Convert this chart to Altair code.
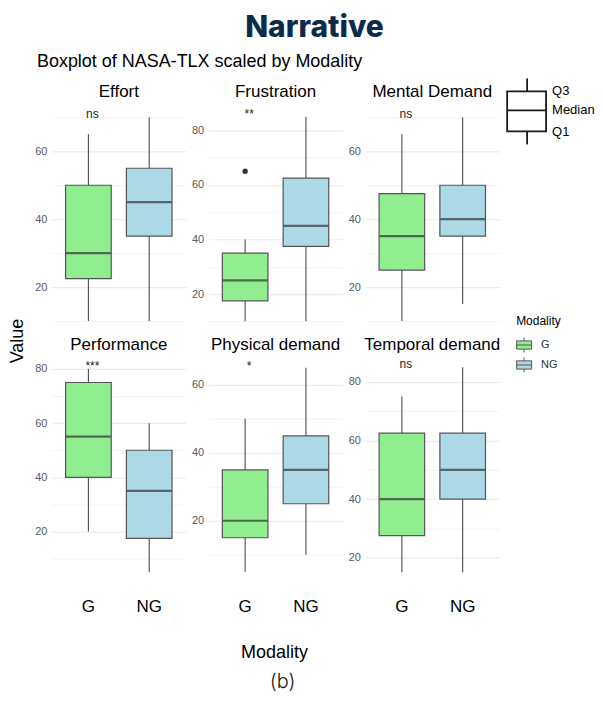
import altair as alt
import pandas as pd

# ---------------- data ----------------
modalities = ["G", "NG"]
panel_names = ["Effort", "Frustration", "Mental Demand",
               "Performance", "Physical demand", "Temporal demand"]
# box stats per panel: [G, NG] each (lower whisker, Q1, median, Q3, upper whisker)
lower = {"Effort": [10, 10], "Frustration": [10, 10], "Mental Demand": [10, 15],
         "Performance": [20, 5], "Physical demand": [5, 10], "Temporal demand": [15, 15]}
q1 = {"Effort": [22.5, 35], "Frustration": [17.5, 37.5], "Mental Demand": [25, 35],
      "Performance": [40, 17.5], "Physical demand": [15, 25], "Temporal demand": [27.5, 40]}
median = {"Effort": [30, 45], "Frustration": [25, 45], "Mental Demand": [35, 40],
          "Performance": [55, 35], "Physical demand": [20, 35], "Temporal demand": [40, 50]}
q3 = {"Effort": [50, 55], "Frustration": [35, 62.5], "Mental Demand": [47.5, 50],
      "Performance": [75, 50], "Physical demand": [35, 45], "Temporal demand": [62.5, 62.5]}
upper = {"Effort": [65, 70], "Frustration": [40, 85], "Mental Demand": [65, 70],
         "Performance": [80, 60], "Physical demand": [50, 65], "Temporal demand": [75, 85]}
outliers = {"Frustration": [("G", 65)]}
sig_label = {"Effort": "ns", "Frustration": "**", "Mental Demand": "ns",
             "Performance": "***", "Physical demand": "*", "Temporal demand": "ns"}
sig_y = {"Effort": 71, "Frustration": 86, "Mental Demand": 71,
         "Performance": 81, "Physical demand": 65.5, "Temporal demand": 86}
y_domain = {"Effort": [7.35, 73.8], "Frustration": [6.8, 89.5], "Mental Demand": [7.35, 73.8],
            "Performance": [1.2, 84.4], "Physical demand": [1.8, 68.2], "Temporal demand": [11.5, 88.5]}
colors = ["#90EE90", "#ADD8E6"]

FONT = "Liberation Sans"
PW, PH = 134, 226
GRID = "#ebebeb"

legend_path = "M-1,-0.55H1V0.55H-1Z M-1,0H1 M0,-0.55V-1 M0,0.55V1"

one = pd.DataFrame({"k": [0]})


def header_layers():
    anchor = alt.Chart(one).mark_rule(opacity=0, strokeWidth=1).encode(
        x=alt.value(-43.5), y=alt.value(-95.5), y2=alt.value(-90))
    title = alt.Chart(one).mark_text(text="Narrative", fontSize=30, font="Inter",
                                     fontWeight=800, color="#0b2b4b").encode(
        x=alt.value(263), y=alt.value(-77))
    sub = alt.Chart(one).mark_text(text="Boxplot of NASA-TLX scaled by Modality", fontSize=18,
                                   font=FONT, align="left", color="black").encode(
        x=alt.value(-15), y=alt.value(-42.5))
    ytitle = alt.Chart(one).mark_text(text="Value", angle=270, fontSize=18, font=FONT,
                                      color="black").encode(x=alt.value(-34), y=alt.value(237))
    return [anchor, title, sub, ytitle]


def key_layers():
    key_box = pd.DataFrame({"x": [142], "x2": [181], "y": [-13], "y2": [27]})
    key_lines = pd.DataFrame({"x": [142, 162, 162], "x2": [181, 162, 162],
                              "y": [6, -26, 27], "y2": [6, -13, 40]})
    key_text = pd.DataFrame({"t": ["Q3", "Median", "Q1"], "x": [187, 187, 187],
                             "y": [-13, 6, 28]})
    kb = alt.Chart(key_box).mark_rect(fill="white", stroke="#1a1a1a", strokeWidth=1.8).encode(
        x=alt.X("x:Q", scale=None), x2="x2:Q", y=alt.Y("y:Q", scale=None), y2="y2:Q")
    kl = alt.Chart(key_lines).mark_rule(color="#1a1a1a", strokeWidth=1.8).encode(
        x=alt.X("x:Q", scale=None), x2="x2:Q", y=alt.Y("y:Q", scale=None), y2="y2:Q")
    kt = alt.Chart(key_text).mark_text(align="left", fontSize=13, font=FONT,
                                       color="black").encode(
        x=alt.X("x:Q", scale=None), y=alt.Y("y:Q", scale=None), text="t:N")
    return [kb, kl, kt]


def footer_layers():
    f1 = alt.Chart(one).mark_text(text="Modality", fontSize=18, font=FONT,
                                  color="black").encode(x=alt.value(66), y=alt.value(297))
    f2 = alt.Chart(one).mark_text(text="(b)", fontSize=20, font="Inter", fontWeight=300,
                                  color="#222222").encode(x=alt.value(74), y=alt.value(326))
    return [f1, f2]


def panel(idx):
    name = panel_names[idx]
    bottom = idx >= 3
    df = pd.DataFrame({
        "Modality": modalities,
        "lo": lower[name], "q1": q1[name], "med": median[name],
        "q3": q3[name], "hi": upper[name],
    })
    dom = y_domain[name]
    ticks = [v for v in range(10, 100, 10) if dom[0] <= v <= dom[1]]
    yaxis = alt.Axis(values=ticks, labelExpr="datum.value % 20 === 0 ? datum.label : ''",
                     ticks=False, domain=False, labelFontSize=11, labelColor="#5a5a5a",
                     labelFont=FONT, labelPadding=5, gridColor=GRID,
                     gridWidth={"condition": {"test": "datum.value % 20 === 0", "value": 1.1},
                                "value": 0.6},
                     title=None)
    yscale = alt.Scale(domain=dom, nice=False, zero=False)
    xscale = alt.Scale(domain=modalities, paddingInner=0.25, paddingOuter=0.225)
    if bottom:
        xaxis = alt.Axis(labels=True, ticks=False, domain=False, labelFontSize=17,
                         labelColor="black", labelFont=FONT, labelPadding=16, labelAngle=0,
                         gridColor=GRID, gridWidth=1.1, bandPosition=0.5, title=None)
    else:
        xaxis = alt.Axis(labels=False, ticks=False, domain=False, gridColor=GRID,
                         gridWidth=1.1, bandPosition=0.5, title=None)
    X = alt.X("Modality:N", scale=xscale, axis=xaxis)

    def Y(f):
        return alt.Y(f"{f}:Q", scale=yscale, axis=yaxis)

    base = alt.Chart(df)
    whisk = base.mark_rule(color="#4d4d4d", strokeWidth=1.1).encode(x=X, y=Y("lo"), y2="hi:Q")
    box = base.mark_bar(stroke="#555555", strokeWidth=1.2).encode(
        x=X, y=Y("q1"), y2="q3:Q",
        fill=alt.Fill("Modality:N", scale=alt.Scale(domain=modalities, range=colors),
                      legend=alt.Legend(title="Modality", orient="none", legendX=465, legendY=212,
                                        symbolType=legend_path, symbolSize=225,
                                        symbolStrokeColor="#555555", symbolStrokeWidth=1,
                                        labelFontSize=11, labelFont=FONT, labelColor="#333333",
                                        titleFontSize=12, titleFont=FONT, titleFontWeight="normal",
                                        titleColor="black", titlePadding=9, rowPadding=0,
                                        labelOffset=9)))
    med = base.mark_tick(color="#333333", thickness=2.2, size=45).encode(x=X, y=Y("med"))
    layers = [whisk, box, med]
    if name in outliers:
        odf = pd.DataFrame({"Modality": [o[0] for o in outliers[name]],
                            "val": [o[1] for o in outliers[name]]})
        layers.append(alt.Chart(odf).mark_circle(color="#333333", size=28, opacity=1)
                      .encode(x=X, y=Y("val")))
    sdf = pd.DataFrame({"Modality": ["G"], "ys": [sig_y[name]], "lab": [sig_label[name]]})
    layers.append(alt.Chart(sdf).mark_text(fontSize=12, font=FONT, color="#222222", dx=4)
                  .encode(x=X, y=Y("ys"), text="lab:N"))
    # facet strip title
    layers.append(alt.Chart(one).mark_text(text=name, fontSize=17, font=FONT, color="black")
                  .encode(x=alt.value(PW / 2), y=alt.value(-12)))
    if idx == 0:
        layers += header_layers()
    if idx == 2:
        layers += key_layers()
    if idx == 4:
        layers += footer_layers()
    return alt.layer(*layers).properties(width=PW, height=PH)


chart = alt.concat(*[panel(i) for i in range(6)], columns=3,
                   spacing={"row": 27, "column": 23}, bounds="flush").properties(
    padding=0
).configure_view(stroke="transparent", strokeWidth=0)

chart.save("out.html", embed_options={"renderer": "svg", "actions": False})
